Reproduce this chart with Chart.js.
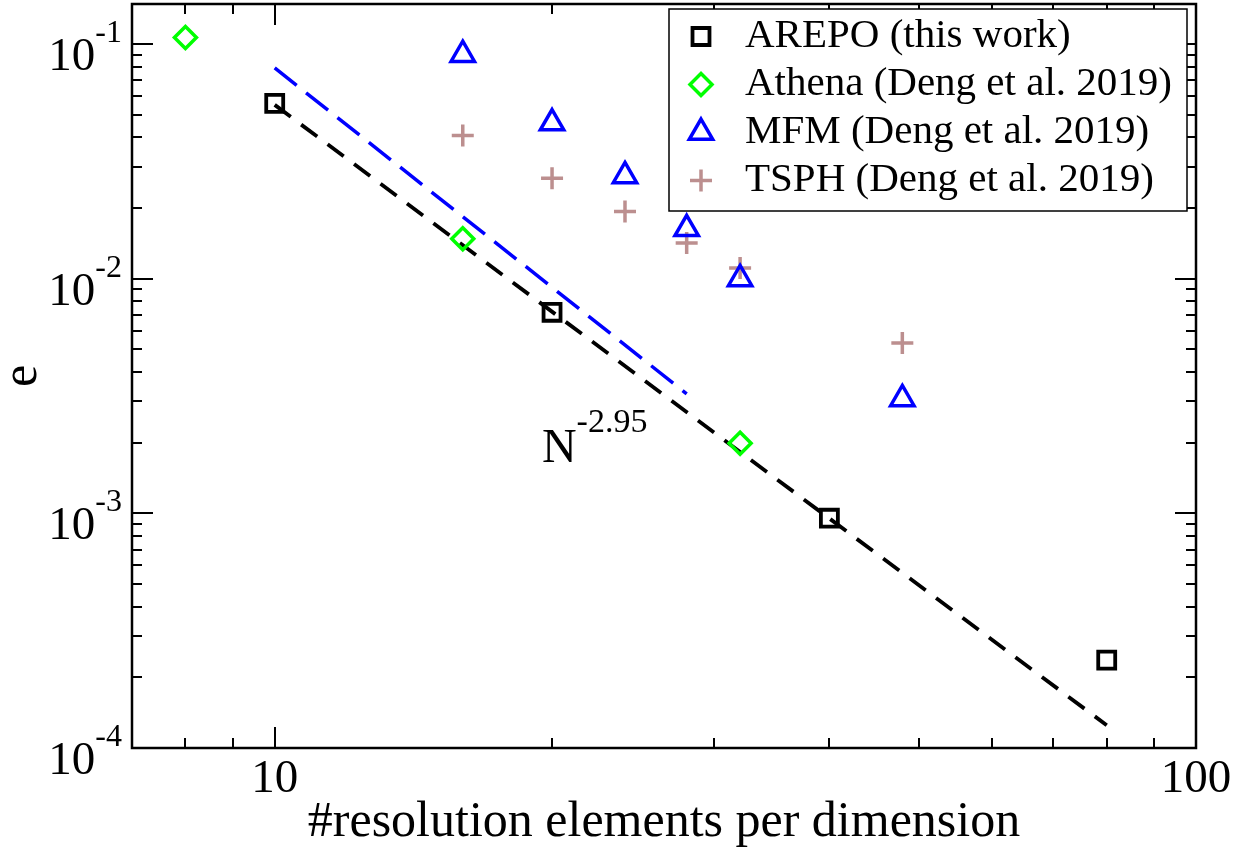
<!DOCTYPE html>
<html>
<head>
<meta charset="utf-8">
<title>Convergence</title>
<script src="https://cdn.jsdelivr.net/npm/chart.js@4.4.1/dist/chart.umd.min.js"></script>
<style>
  html, body { margin: 0; padding: 0; background: #fff; }
  canvas { display: block; }
  .fontwarm { position: absolute; left: -9999px; top: 0; font: 40px "Liberation Serif"; }
</style>
</head>
<body>
<canvas id="errChart" width="1246" height="848"></canvas>
<div class="fontwarm">10 AREPO</div>
<script>
// error vs. resolution for each code
const arepoN = [10, 20, 40, 80];
const arepoErr = [0.0558, 0.00719, 0.000953, 0.000237];
const athenaN = [8, 16, 32];
const athenaErr = [0.1065, 0.0148, 0.00199];
const mfmN = [16, 20, 24, 28, 32, 48];
const mfmErr = [0.09, 0.046, 0.0274, 0.0163, 0.00997, 0.00307];
const tsphN = [16, 20, 24, 28, 32, 48];
const tsphErr = [0.0407, 0.0268, 0.0193, 0.0142, 0.0111, 0.00532];

// guide lines (end points)
const fitN = [10, 80];
const fitErr = [0.055, 0.000125];
const mfmFitN = [10, 28];
const mfmFitErr = [0.079, 0.00323];

const seriesNames = ['AREPO (this work)', 'Athena (Deng et al. 2019)', 'MFM (Deng et al. 2019)', 'TSPH (Deng et al. 2019)'];

// axes
const xMin = 7, xMax = 100;
const yMin = 1e-4, yMax = 0.148;
const xTicks = [10, 100];
const xTickLabels = ['10', '100'];
const yTicks = [1e-1, 1e-2, 1e-3, 1e-4];
const yTickExp = ['-1', '-2', '-3', '-4'];
const xTitle = '#resolution elements per dimension';
const yTitle = 'e';
const slopeLabel = ['N', '-2.95'];
const slopeLabelAt = { x: 19.5, y: 0.00166 };

const FONT = '"Liberation Serif"';

const pts = (xs, ys) => xs.map((v, i) => ({ x: v, y: ys[i] }));

function minorTicks(lo, hi) {
    const out = [];
    for (let d = Math.pow(10, Math.floor(Math.log10(lo))); d < hi; d *= 10) {
        for (let k = 1; k < 10; k++) {
            const v = k * d;
            if (v >= lo && v <= hi) out.push(v);
        }
    }
    return out;
}

const markers = [
    { style: 'rect', color: '#000000', radius: 12, width: 3.8 },
    { style: 'rectRot', color: '#00ff00', radius: 11, width: 3.5 },
    { style: 'triangle', color: '#0000ff', radius: 13.5, width: 3.5 },
    { style: 'cross', color: '#bc8f8f', radius: 11, width: 3.5 }
];

function markerSet(label, data, m) {
    return {
        label, data,
        pointStyle: m.style,
        pointRadius: m.radius,
        pointBorderWidth: m.width,
        pointBorderColor: m.color,
        pointBackgroundColor: 'rgba(0,0,0,0)',
        showLine: false,
        order: 1
    };
}

// text with a raised exponent
function drawSup(ctx, base, sup, x, y, baseSize, supSize, raise, align) {
    ctx.font = baseSize + 'px ' + FONT;
    const bw = ctx.measureText(base).width;
    ctx.font = supSize + 'px ' + FONT;
    const sw = ctx.measureText(sup).width;
    let x0 = x;
    if (align === 'right') x0 = x - bw - sw;
    if (align === 'center') x0 = x - (bw + sw) / 2;
    ctx.textAlign = 'left';
    ctx.textBaseline = 'alphabetic';
    ctx.font = baseSize + 'px ' + FONT;
    ctx.fillText(base, x0, y);
    ctx.font = supSize + 'px ' + FONT;
    ctx.fillText(sup, x0 + bw, y - raise);
}

const frame = {
    id: 'frame',
    afterDatasetsDraw(chart) {
        const { ctx, chartArea: a, scales: { x, y } } = chart;
        ctx.save();
        ctx.strokeStyle = '#000';
        ctx.fillStyle = '#000';
        ctx.lineWidth = 2;
        ctx.lineCap = 'butt';

        // inward ticks on all four sides
        ctx.beginPath();
        minorTicks(xMin, xMax).forEach(v => {
            const len = xTicks.includes(v) ? 21 : 10;
            const px = Math.round(x.getPixelForValue(v));
            ctx.moveTo(px, a.bottom); ctx.lineTo(px, a.bottom - len);
            ctx.moveTo(px, a.top); ctx.lineTo(px, a.top + len);
        });
        minorTicks(yMin, yMax).forEach(v => {
            const len = yTicks.some(t => Math.abs(t - v) / t < 1e-6) ? 21 : 10;
            const py = Math.round(y.getPixelForValue(v));
            ctx.moveTo(a.left, py); ctx.lineTo(a.left + len, py);
            ctx.moveTo(a.right, py); ctx.lineTo(a.right - len, py);
        });
        ctx.stroke();

        ctx.lineWidth = 2.5;
        ctx.strokeRect(a.left, a.top, a.right - a.left, a.bottom - a.top);

        // tick labels
        ctx.textAlign = 'center';
        ctx.textBaseline = 'alphabetic';
        ctx.font = '47px ' + FONT;
        xTicks.forEach((v, i) => ctx.fillText(xTickLabels[i], x.getPixelForValue(v), a.bottom + 44));
        yTicks.forEach((v, i) => {
            const py = y.getPixelForValue(v);
            drawSup(ctx, '10', yTickExp[i], a.left - 10, py + 26, 47, 32, 28, 'right');
        });

        // axis titles
        ctx.font = '50px ' + FONT;
        ctx.textAlign = 'center';
        ctx.fillText(xTitle, (a.left + a.right) / 2, 836);
        ctx.save();
        ctx.translate(36, (a.top + a.bottom) / 2);
        ctx.rotate(-Math.PI / 2);
        ctx.fillText(yTitle, 0, 0);
        ctx.restore();

        // slope annotation
        drawSup(ctx, slopeLabel[0], slopeLabel[1],
            x.getPixelForValue(slopeLabelAt.x), y.getPixelForValue(slopeLabelAt.y), 48, 34, 30, 'left');

        // legend box
        const lx = 669, ly = 9, lw = 518, lh = 202;
        ctx.fillStyle = '#fff';
        ctx.fillRect(lx, ly, lw, lh);
        ctx.lineWidth = 1.5;
        ctx.strokeStyle = '#000';
        ctx.strokeRect(lx, ly, lw, lh);
        seriesNames.forEach((name, i) => {
            const base = 47 + i * 48;
            const m = markers[i];
            ctx.save();
            ctx.strokeStyle = m.color;
            ctx.fillStyle = 'rgba(0,0,0,0)';
            ctx.lineWidth = m.width;
            Chart.helpers.drawPoint(ctx, { pointStyle: m.style, radius: m.radius, borderWidth: m.width, rotation: 0 }, 701, base - 10.5);
            ctx.restore();
            ctx.fillStyle = '#000';
            ctx.font = '41px ' + FONT;
            ctx.textAlign = 'left';
            ctx.fillText(name, 745, base);
        });
        ctx.restore();
    }
};

function draw() {
    new Chart(document.getElementById('errChart'), {
        type: 'scatter',
        data: {
            datasets: [
                {
                    label: 'fit', data: pts(fitN, fitErr), showLine: true,
                    borderColor: '#000', borderWidth: 3.8, borderDash: [20, 13],
                    pointRadius: 0, order: 2
                },
                {
                    label: 'mfm fit', data: pts(mfmFitN, mfmFitErr), showLine: true,
                    borderColor: '#0000ff', borderWidth: 3.5, borderDash: [28, 12],
                    pointRadius: 0, order: 2
                },
                markerSet(seriesNames[0], pts(arepoN, arepoErr), markers[0]),
                markerSet(seriesNames[1], pts(athenaN, athenaErr), markers[1]),
                markerSet(seriesNames[2], pts(mfmN, mfmErr), markers[2]),
                markerSet(seriesNames[3], pts(tsphN, tsphErr), markers[3])
            ]
        },
        options: {
            responsive: false,
            animation: false,
            layout: { autoPadding: false, padding: { left: 132, top: 4, right: 50, bottom: 100 } },
            scales: {
                x: { type: 'logarithmic', min: xMin, max: xMax, display: false },
                y: { type: 'logarithmic', min: yMin, max: yMax, display: false }
            },
            plugins: { legend: { display: false }, tooltip: { enabled: false } }
        },
        plugins: [frame]
    });
}

document.fonts.load('40px "Liberation Serif"').then(draw, draw);
</script>
</body>
</html>
